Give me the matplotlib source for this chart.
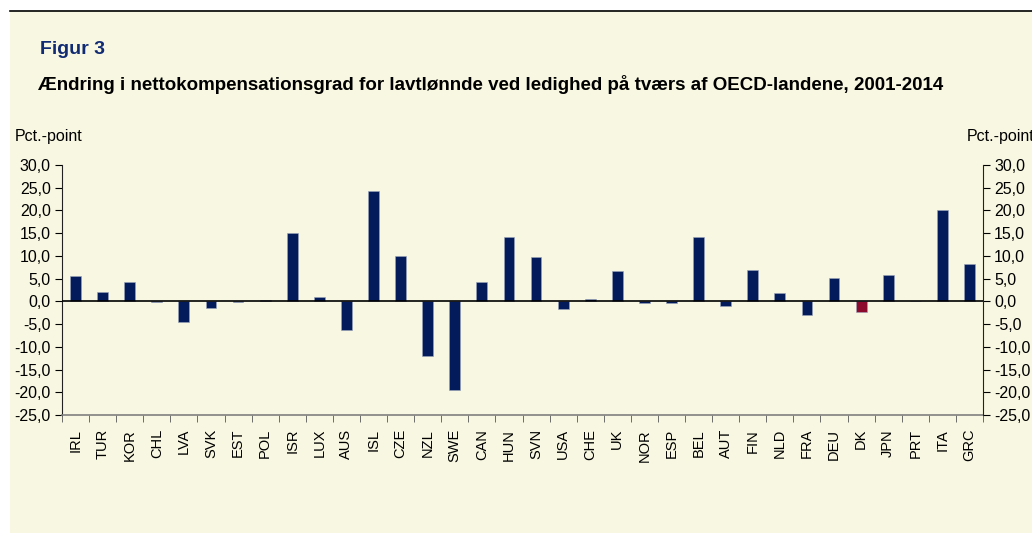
import numpy as np
import matplotlib
matplotlib.use("Agg")
import matplotlib.pyplot as plt
from matplotlib.lines import Line2D
from matplotlib.patches import Rectangle

countries = ["IRL", "TUR", "KOR", "CHL", "LVA", "SVK", "EST", "POL", "ISR", "LUX",
             "AUS", "ISL", "CZE", "NZL", "SWE", "CAN", "HUN", "SVN", "USA", "CHE",
             "UK", "NOR", "ESP", "BEL", "AUT", "FIN", "NLD", "FRA", "DEU", "DK",
             "JPN", "PRT", "ITA", "GRC"]
values = [5.6, 2.0, 4.2, -0.2, -4.6, -1.5, -0.1, 0.3, 15.0, 1.0,
          -6.4, 24.3, 10.0, -12.1, -19.6, 4.2, 14.2, 9.7, -1.7, 0.5,
          6.6, -0.4, -0.4, 14.2, -1.0, 7.0, 1.8, -3.0, 5.1, -2.3,
          5.9, 0.0, 20.2, 8.3]
highlight = "DK"
yticks = [-25, -20, -15, -10, -5, 0, 5, 10, 15, 20, 25, 30]

NAVY = "#031b5a"
RED = "#8c0a2c"
BG = "#f8f7e1"

plt.rcParams["font.family"] = ["Liberation Sans", "DejaVu Sans"]

fig = plt.figure(figsize=(10.32, 5.33), dpi=100)
fig.patch.set_facecolor("white")
# cream panel and top rule
fig.patches.append(Rectangle((10 / 1032, 0), 1 - 10 / 1032, 1 - 11 / 533,
                             transform=fig.transFigure, facecolor=BG,
                             edgecolor="none", zorder=-5))
fig.lines.append(Line2D([10 / 1032, 1], [1 - 11 / 533] * 2, transform=fig.transFigure,
                        color="black", lw=1.2, zorder=-4))

fig.text(40 / 1032, 1 - 50 / 533, "Figur 3", fontsize=14, fontweight="bold",
         color="#102a73", va="center", ha="left")
fig.text(38 / 1032, 1 - 84 / 533,
         "Ændring i nettokompensationsgrad for lavtlønnde ved ledighed på tværs af OECD-landene, 2001-2014",
         fontsize=13.5, fontweight="bold", color="black", va="center", ha="left")
fig.text(15 / 1032, 1 - 137 / 533, "Pct.-point", fontsize=11.5, va="center", ha="left")
# right-hand unit label runs off the panel edge, as in the original
fig.text(967 / 1032, 1 - 137 / 533, "Pct.-point", fontsize=11.5, va="center", ha="left")

l, r = 62 / 1032, 983 / 1032
b, t = 1 - 415 / 533, 1 - 165 / 533
ax = fig.add_axes([l, b, r - l, t - b])
ax.set_facecolor("none")

x = np.arange(len(countries))
colors = [RED if c == highlight else NAVY for c in countries]
ax.bar(x, values, width=0.4, color=colors, edgecolor="#9aa3bd", linewidth=0.4, zorder=2)
ax.axhline(0, color="black", lw=1.2, zorder=3)

ax.set_xlim(-0.5, len(countries) - 0.5)
ax.set_ylim(-25, 30)
ax.set_yticks(yticks)
ax.set_yticklabels([f"{v:.1f}".replace(".", ",") for v in yticks], fontsize=11.5)

ax.set_xticks(x)
ax.set_xticklabels(countries, rotation=90, fontsize=10.5)
ax.tick_params(axis="x", which="major", length=0, pad=10)
ax.set_xticks(np.arange(-0.5, len(countries)), minor=True)
ax.tick_params(axis="x", which="minor", length=5, direction="out", color="#555555")
ax.tick_params(axis="y", length=5, direction="out", pad=3)

for s in ["top", "right"]:
    ax.spines[s].set_visible(False)
ax.spines["left"].set_color("#222222")
ax.spines["bottom"].set_color("#808080")
ax.spines["bottom"].set_linewidth(1.2)

ax2 = ax.twinx()
ax2.set_ylim(-25, 30)
ax2.set_yticks(yticks)
ax2.set_yticklabels([f"{v:.1f}".replace(".", ",") for v in yticks], fontsize=11.5)
ax2.tick_params(axis="y", length=5, direction="out", pad=3)
for s in ["top", "left", "bottom"]:
    ax2.spines[s].set_visible(False)
ax2.spines["right"].set_color("#222222")

fig.savefig("out.png", dpi=100, facecolor=fig.get_facecolor())
